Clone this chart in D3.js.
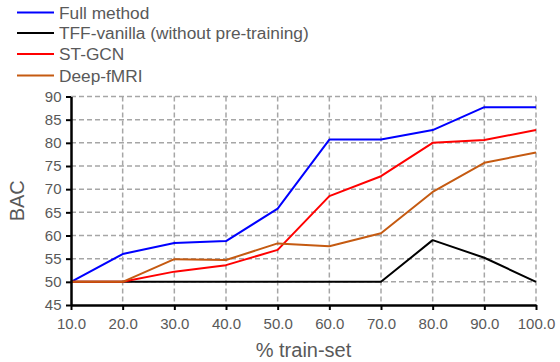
<!DOCTYPE html>
<html><head><meta charset="utf-8">
<script src="https://cdn.jsdelivr.net/npm/d3@7"></script>
<style>body{margin:0;background:#fff}svg{display:block}</style>
</head><body>
<svg id="c" width="560" height="362"></svg>
<script>
const xValues = [10, 20, 30, 40, 50, 60, 70, 80, 90, 100];
const xTickLabels = ["10.0","20.0","30.0","40.0","50.0","60.0","70.0","80.0","90.0","100.0"];
const yTicks = [45, 50, 55, 60, 65, 70, 75, 80, 85, 90];
const seriesNames = ["Full method", "TFF-vanilla (without pre-training)", "ST-GCN", "Deep-fMRI"];
const seriesColors = ["#0000ff", "#000000", "#ff0000", "#c55a11"];
const fullMethod = [50, 56.0, 58.4, 58.8, 65.8, 80.7, 80.7, 82.75, 87.7, 87.7];
const tffVanilla = [50, 50, 50, 50, 50, 50, 50, 59.0, 55.2, 50];
const stGcn = [50, 50, 52.2, 53.6, 56.9, 68.5, 72.8, 80.0, 80.6, 82.75];
const deepFmri = [50, 50, 54.9, 54.7, 58.3, 57.7, 60.5, 69.4, 75.7, 77.9];
const seriesValues = [fullMethod, tffVanilla, stGcn, deepFmri];

(function () {
const svg = d3.select("#c");
const mLeft = 71, mRight = 536, mTop = 96.5, mBottom = 305;
const x = d3.scaleLinear().domain([10, 100]).range([mLeft, mRight]);
const y = d3.scaleLinear().domain([45, 90]).range([mBottom, mTop]);
const gray = "#595959";
const font = "'Liberation Sans', Arial, sans-serif";

// gridlines
const grid = svg.append("g");
grid.selectAll("line.h").data(yTicks.filter(d => d > 45)).enter().append("line")
  .attr("x1", mLeft).attr("x2", mRight).attr("y1", d => y(d)).attr("y2", d => y(d))
  .attr("stroke", "#a6a6a6").attr("stroke-width", 1.5).attr("stroke-dasharray", "5,3");
grid.selectAll("line.v").data(xValues.filter(d => d > 10)).enter().append("line")
  .attr("y1", mTop).attr("y2", mBottom).attr("x1", d => x(d)).attr("x2", d => x(d))
  .attr("stroke", "#a6a6a6").attr("stroke-width", 1.5).attr("stroke-dasharray", "5,3");

// series
const line = d3.line().x((d, i) => x(xValues[i])).y(d => y(d));
seriesValues.forEach((vals, k) => {
  svg.append("path").datum(vals).attr("d", line)
    .attr("fill", "none").attr("stroke", seriesColors[k]).attr("stroke-width", 2)
    .attr("stroke-linejoin", "round");
});

// axes
const xAxis = d3.axisBottom(x).tickValues(xValues).tickFormat((d, i) => xTickLabels[i]).tickSize(5).tickSizeOuter(0);
const gx = svg.append("g").attr("transform", `translate(0,${mBottom})`).call(xAxis);
gx.select(".domain").attr("stroke", "#000").attr("stroke-width", 2.5);
gx.selectAll(".tick line").attr("stroke", "#000").attr("stroke-width", 2);
gx.selectAll(".tick text").attr("fill", gray).attr("font-family", font).attr("font-size", 15).attr("dy", "1.05em");

const yAxis = d3.axisLeft(y).tickValues(yTicks).tickSize(5).tickSizeOuter(0);
const gy = svg.append("g").attr("transform", `translate(${mLeft},0)`).call(yAxis);
gy.select(".domain").attr("stroke", "#000").attr("stroke-width", 2.5);
gy.selectAll(".tick line").attr("stroke", "#000").attr("stroke-width", 2);
gy.selectAll(".tick text").attr("fill", gray).attr("font-family", font).attr("font-size", 15).attr("dx", "-0.1em");

// axis titles
svg.append("text").attr("x", (mLeft + mRight) / 2).attr("y", 357).attr("text-anchor", "middle")
  .attr("fill", gray).attr("font-family", font).attr("font-size", 20).text("% train-set");
svg.append("text").attr("transform", `translate(24,${(mTop + mBottom) / 2}) rotate(-90)`)
  .attr("text-anchor", "middle").attr("fill", gray).attr("font-family", font).attr("font-size", 20).text("BAC");

// legend
const legY = [12.5, 33, 54, 75.5];
const leg = svg.append("g");
seriesNames.forEach((name, k) => {
  leg.append("line").attr("x1", 17).attr("x2", 54).attr("y1", legY[k]).attr("y2", legY[k])
    .attr("stroke", seriesColors[k]).attr("stroke-width", 2);
  leg.append("text").attr("x", 59).attr("y", legY[k]).attr("dy", "0.36em")
    .attr("fill", gray).attr("font-family", font).attr("font-size", 17.3).text(name);
});
})();
</script>
</body></html>
